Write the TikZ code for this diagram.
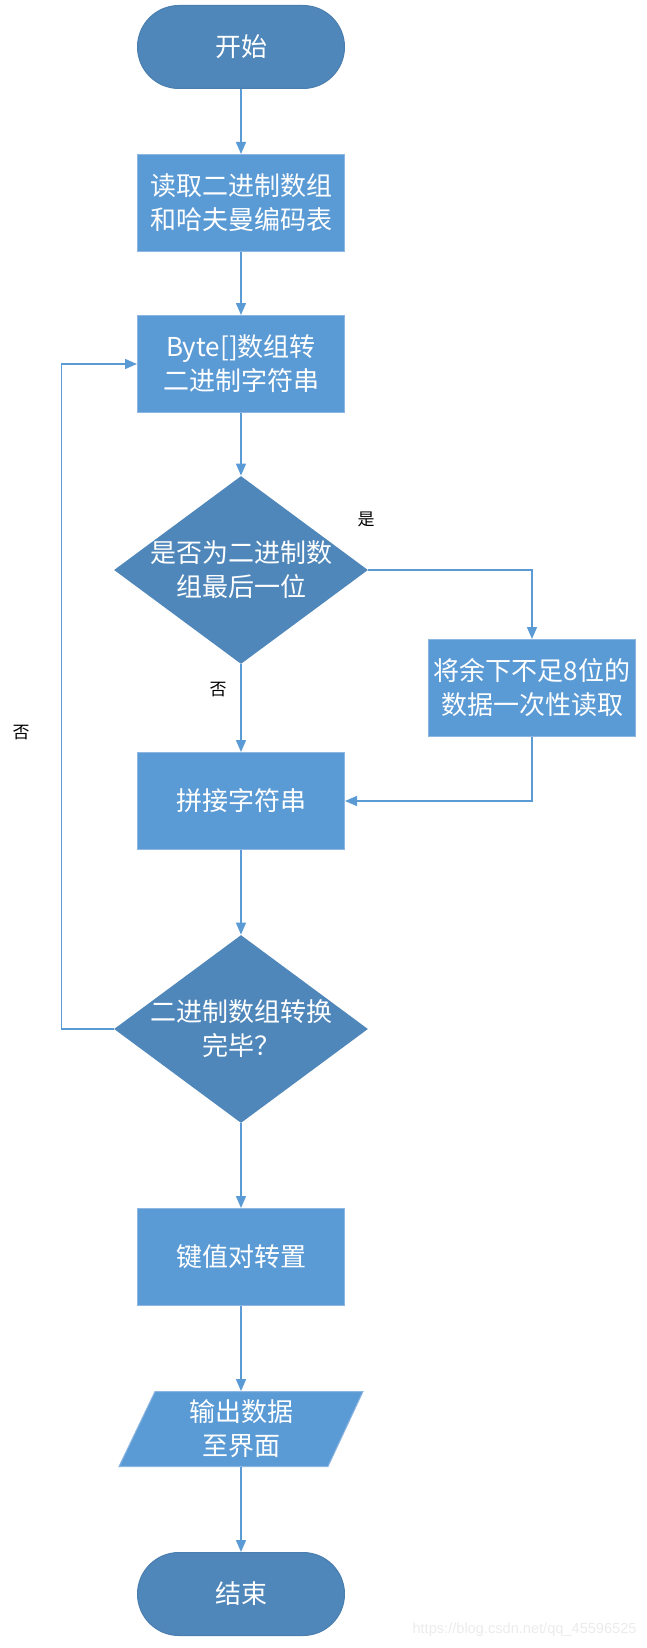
\documentclass[tikz,border=0pt]{standalone}
\usepackage{fontspec}
\setmainfont{Noto Sans CJK SC}
\newfontfamily\wmfont{Liberation Sans}
\usepackage{tikz}
\usetikzlibrary{positioning, arrows.meta, shapes.geometric, calc}
\definecolor{boxblue}{HTML}{5B9BD5}
\definecolor{termblue}{HTML}{4F87BA}
\definecolor{termedge}{HTML}{4A7EAE}
\definecolor{edgeblue}{HTML}{8DB6E2}
\definecolor{lineblue}{HTML}{5B9BD5}

\begin{document}
\begin{tikzpicture}[x=0.5pt, y=-0.5pt,
  proc/.style={rectangle, fill=boxblue, draw=edgeblue, line width=0.5pt, minimum width=103.5pt, minimum height=48.5pt, inner sep=0pt, text=white, align=center, font=\fontsize{13}{17}\selectfont},
  term/.style={rectangle, rounded corners=20.75pt, fill=termblue, draw=termedge, line width=0.5pt, minimum width=103.5pt, minimum height=41.5pt, inner sep=0pt, text=white, font=\fontsize{13}{17}\selectfont},
  decision/.style={diamond, fill=termblue, inner sep=0pt, minimum width=127pt, minimum height=94pt},
  dtext/.style={text=white, align=center, inner sep=0pt, font=\fontsize{13}{17}\selectfont},
  lbl/.style={inner sep=0pt, font=\fontsize{8.5}{10}\selectfont},
  flow/.style={draw=lineblue, line width=0.75pt, -{Triangle[length=6pt, width=5pt]}}]
\useasboundingbox (0,0) rectangle (647,1648);
% main column
\node[term] (start) at (241,47) {开始};
\node[proc] (read) at (241,203) {读取二进制数组\\和哈夫曼编码表};
\node[proc] (conv) at (241,364) {Byte[]数组转\\二进制字符串};
\node[decision] (last) at (241,570) {};
\node[dtext] (lastt) at (last) {是否为二进制数\\组最后一位};
\node[proc] (rest) at (532,688) {将余下不足8位的\\数据一次性读取};
\node[proc] (join) at (241,801) {拼接字符串};
\node[decision] (done) at (241,1029) {};
\node[dtext] (donet) at (done) {二进制数组转换\\完毕？};
\node[proc] (swap) at (241,1257) {键值对转置};
% output box
\coordinate (outc) at (241,1429);
\filldraw[fill=boxblue, draw=edgeblue, line width=0.5pt] ($(outc)+(-86,-37.5)$) -- ($(outc)+(122,-37.5)$) -- ($(outc)+(87,37.5)$) -- ($(outc)+(-122,37.5)$) -- cycle;
\node[dtext, minimum width=104pt, minimum height=37.5pt] (out) at (outc) {输出数据\\至界面};
\node[term] (end) at (241,1594) {结束};
% connectors
\draw[flow] (start) -- (read);
\draw[flow] (read) -- (conv);
\draw[flow] (conv) -- (last);
\draw[flow] (last.east) -| (rest);
\draw[flow] (rest) |- (join);
\draw[flow] (last) -- (join);
\draw[flow] (join) -- (done);
\draw[flow] (done.west) -- ++(-52,0) |- (conv.west);
\draw[flow] (done) -- (swap);
\draw[flow] (swap) -- (out);
\draw[flow] (out) -- (end);
% labels
\node[lbl] (yes) at (366,519) {是};
\node[lbl] (no1) at (218,690) {否};
\node[lbl] (no2) at (21,733) {否};
\node[anchor=east, inner sep=0pt, text=black!8, font=\wmfont\fontsize{7.3}{9}\selectfont] (wm) at (637,1630) {https://blog.csdn.net/qq\_45596525};
\end{tikzpicture}
\end{document}
